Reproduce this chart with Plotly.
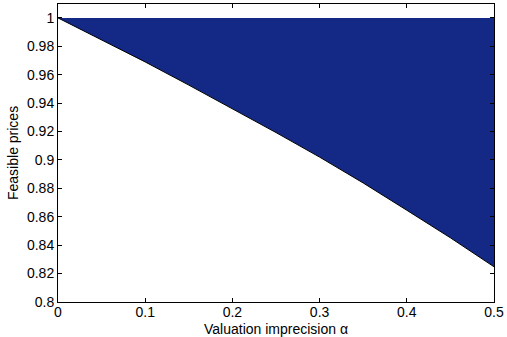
import plotly.graph_objects as go

alpha = [0.0, 0.05, 0.1, 0.15, 0.2, 0.25, 0.3, 0.35, 0.4, 0.45, 0.5]
lower_price = [1.0, 0.9847, 0.969, 0.9527, 0.9363, 0.9193, 0.902, 0.8838, 0.8646, 0.8452, 0.8248]
upper_price = [1.0] * len(alpha)

x_ticks = [0, 0.1, 0.2, 0.3, 0.4, 0.5]
x_tick_labels = ["0", "0.1", "0.2", "0.3", "0.4", "0.5"]
y_ticks = [0.8, 0.82, 0.84, 0.86, 0.88, 0.9, 0.92, 0.94, 0.96, 0.98, 1.0]
y_tick_labels = ["0.8", "0.82", "0.84", "0.86", "0.88", "0.9", "0.92", "0.94", "0.96", "0.98", "1"]

fig = go.Figure()
fig.add_trace(go.Scatter(x=alpha, y=upper_price, mode="lines",
                         line=dict(width=0, color="#142986"), showlegend=False,
                         hoverinfo="skip"))
fig.add_trace(go.Scatter(x=alpha, y=lower_price, mode="lines", fill="tonexty",
                         fillcolor="#142986", line=dict(color="black", width=1),
                         showlegend=False))

font = dict(family="Liberation Sans, Arial, sans-serif", size=14, color="black")
fig.update_layout(
    width=507, height=337,
    margin=dict(l=58, r=10, t=3, b=35),
    paper_bgcolor="white", plot_bgcolor="white",
    font=font,
    xaxis=dict(range=[0, 0.5], tickvals=x_ticks, ticktext=x_tick_labels,
               showgrid=False, zeroline=False, showline=True, linecolor="black",
               linewidth=1, mirror="ticks", ticks="inside", ticklen=4,
               tickcolor="black", ticklabelstandoff=-3),
    yaxis=dict(range=[0.8, 1.0098], tickvals=y_ticks, ticktext=y_tick_labels,
               showgrid=False, zeroline=False, showline=True, linecolor="black",
               linewidth=1, mirror="ticks", ticks="inside", ticklen=4,
               tickcolor="black", ticklabelstandoff=0),
    annotations=[
        dict(text="Valuation imprecision \u03b1", xref="paper", yref="paper",
             x=0.5, y=0, xanchor="center", yanchor="middle",
             yshift=-27, showarrow=False, font=font),
        dict(text="Feasible prices", xref="paper", yref="paper",
             x=0, y=0.5, xshift=-45, xanchor="center", yanchor="middle",
             textangle=-90, showarrow=False, font=font),
    ],
)

fig.write_html("out.html")
